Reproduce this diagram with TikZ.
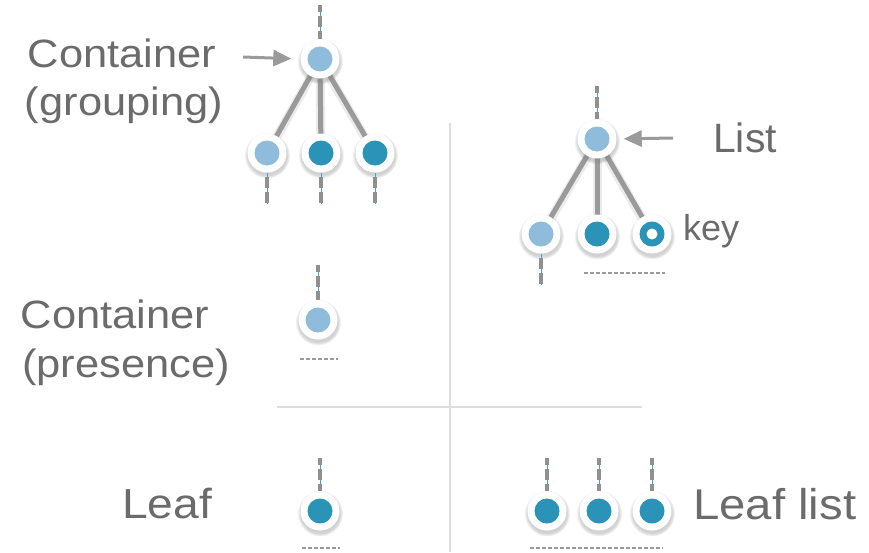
\documentclass[tikz,border=0pt]{standalone}
\usepackage{fontspec}
\setmainfont{Liberation Sans}
\newfontfamily\widefont[FakeStretch=1.1]{Liberation Sans}
\usetikzlibrary{shadows,arrows.meta,backgrounds}

\definecolor{palenode}{HTML}{8FBCDB}
\definecolor{deepnode}{HTML}{2B93B7}
\definecolor{edgegray}{HTML}{9A9A9A}
\definecolor{stubgray}{HTML}{909090}
\definecolor{stubblue}{HTML}{3AA6D6}
\definecolor{labelgray}{HTML}{6B6B6B}
\definecolor{rulegray}{HTML}{DDDDDD}

\tikzset{
  ring/.style={circle, fill=white, minimum size=39pt, inner sep=0pt,
    circular drop shadow={shadow xshift=0pt, shadow yshift=-2pt,
      shadow scale=1.18, opacity=.35}},
  lnode/.style={ring, path picture={\fill[palenode]
      (path picture bounding box.center) circle[radius=12.5pt];}},
  dnode/.style={ring, path picture={\fill[deepnode]
      (path picture bounding box.center) circle[radius=12.5pt];}},
  knode/.style={ring, path picture={\fill[deepnode]
      (path picture bounding box.center) circle[radius=12.5pt];
      \fill[white] (path picture bounding box.center) circle[radius=5.5pt];}},
  branch/.style={draw=edgegray, line width=5pt,
    preaction={draw=black, opacity=.08, line width=9pt, transform canvas={yshift=-1.5pt}}},
  stub/.style={draw=stubgray, line width=4pt, dash pattern=on 11pt off 4pt,
    preaction={draw=stubblue, line width=1pt, solid}},
  stubup/.style={stub, dash phase=4pt},
  stubdown/.style={stub, dash phase=11pt},
  underline/.style={draw=edgegray, line width=1.5pt, dash pattern=on 4pt off 2pt},
  divider/.style={draw=rulegray, line width=2pt},
  pointer/.style={draw=edgegray, line width=3pt,
    -{Triangle[length=18pt,width=16pt]}},
  biglabel/.style={text=labelgray, inner sep=0pt, anchor=base,
    font=\widefont\fontsize{39.5}{46}\selectfont},
  listlabel/.style={text=labelgray, inner sep=0pt, anchor=base,
    font=\fontsize{41}{48}\selectfont},
  leaflabel/.style={biglabel, font=\widefont\fontsize{42}{48}\selectfont},
  keylabel/.style={text=labelgray, inner sep=0pt, anchor=base west,
    font=\fontsize{36}{42}\selectfont},
}

\begin{document}
\begin{tikzpicture}[x=1pt, y=-1pt]
\useasboundingbox (0,0) rectangle (869,552);

% quadrant dividers
\coordinate (vtop) at (450,123);
\coordinate (vbot) at (450,552);
\coordinate (hleft) at (277,407);
\coordinate (hright) at (642,407);
\draw[divider] (vtop) -- (vbot);
\draw[divider] (hleft) -- (hright);

% grouping container
\node[lnode] (g) at (320,59) {};
\node[lnode] (g1) at (267,153) {};
\node[dnode] (g2) at (321,153) {};
\node[dnode] (g3) at (375,153) {};
\coordinate (gtop) at (320,5);
\coordinate (g1bot) at (267,204);
\coordinate (g2bot) at (321,204);
\coordinate (g3bot) at (375,204);
\coordinate (garrow) at (243,57);

% list
\node[lnode] (l) at (597,139) {};
\node[lnode] (l1) at (541,234) {};
\node[dnode] (l2) at (597,234) {};
\node[knode] (l3) at (652,234) {};
\coordinate (ltop) at (597,86);
\coordinate (l1bot) at (541,285);
\coordinate (larrow) at (673,138);
\coordinate (lul) at (584,273);
\coordinate (lur) at (665,273);

% presence container
\node[lnode] (p) at (318,320) {};
\coordinate (ptop) at (318,265);
\coordinate (pul) at (300,359);
\coordinate (pur) at (338,359);

% leaf
\node[dnode] (f) at (320,511) {};
\coordinate (ftop) at (320,458);
\coordinate (ful) at (302,548);
\coordinate (fur) at (340,548);

% leaf list
\node[dnode] (f1) at (547,511) {};
\node[dnode] (f2) at (599,511) {};
\node[dnode] (f3) at (652,511) {};
\coordinate (f1top) at (547,458);
\coordinate (f2top) at (599,458);
\coordinate (f3top) at (652,458);
\coordinate (fful) at (530,548);
\coordinate (ffur) at (663,548);

% white sheet and branches behind the nodes
\begin{scope}[on background layer]
  \fill[white] (0,0) rectangle (869,552);
  \draw[branch] (g.center) -- (g1.center);
  \draw[branch] (g.center) -- (g2.center);
  \draw[branch] (g.center) -- (g3.center);
  \draw[branch] (l.center) -- (l1.center);
  \draw[branch] (l.center) -- (l2.center);
  \draw[branch] (l.center) -- (l3.center);
\end{scope}

% dangling stubs
\draw[stubup] (gtop) -- (g.north);
\draw[stubdown] (g1.south) -- (g1bot);
\draw[stubdown] (g2.south) -- (g2bot);
\draw[stubdown] (g3.south) -- (g3bot);
\draw[stubup] (ltop) -- (l.north);
\draw[stubdown] (l1.south) -- (l1bot);
\draw[stubup] (ptop) -- (p.north);
\draw[stubup] (ftop) -- (f.north);
\draw[stubup] (f1top) -- (f1.north);
\draw[stubup] (f2top) -- (f2.north);
\draw[stubup] (f3top) -- (f3.north);

% dashed underlines
\draw[underline] (lul) -- (lur);
\draw[underline] (pul) -- (pur);
\draw[underline] (ful) -- (fur);
\draw[underline] (fful) -- (ffur);

% pointers
\draw[pointer, shorten >=9pt] (garrow) -- (g.west);
\draw[pointer, shorten >=7pt] (larrow) -- (l.east);

% labels
\node[biglabel] (t1) at (122,67) {Container};
\node[biglabel] (t2) at (124,115) {(grouping)};
\node[biglabel] (t3) at (115,328) {Container};
\node[biglabel] (t4) at (126,377) {(presence)};
\node[leaflabel] (t5) at (167,518) {Leaf};
\node[listlabel] (t6) at (745,152) {List};
\node[keylabel] (t7) at (683,240) {key};
\node[leaflabel, anchor=base west, font=\widefont\fontsize{43}{50}\selectfont] (t8) at (693,519) {Leaf list};
\end{tikzpicture}
\end{document}
